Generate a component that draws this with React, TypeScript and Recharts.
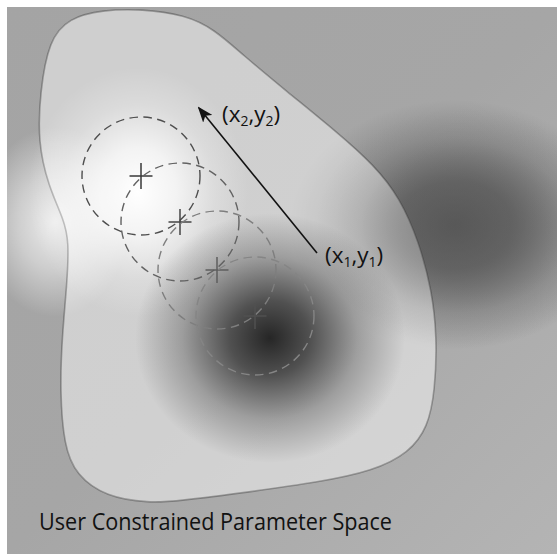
import React from "react";
import { ComposedChart, XAxis, YAxis, Scatter, ReferenceArea } from "recharts";

const W = 557;
const H = 554;

// outline of the constrained region, clockwise from the upper left
const outlineX = [40, 49, 69, 102, 142, 185, 214, 243, 285, 338, 374, 400, 419, 432, 437, 435, 428, 409, 373, 320, 249, 178, 149, 106, 76, 64, 60, 62, 67, 69, 64, 48, 38];
const outlineY = [92, 40, 18, 10, 9, 15, 29, 55, 90, 133, 165, 198, 242, 291, 337, 391, 427, 453, 471, 482, 492, 501, 503, 497, 475, 446, 391, 337, 284, 242, 220, 185, 142];

// soft light / dark spots of the underlying field
const spotX = [455, 55, 465, 138, 270];
const spotY = [225, 222, 228, 192, 338];
const spotRx = [165, 75, 150, 110, 135];
const spotRy = [125, 95, 120, 125, 125];
const spotFill = ["darkOuter", "lightOuter", "darkOver", "lightInner", "darkInner"];

// sampled positions of the search window
const stepX = [141, 180, 217, 255];
const stepY = [176, 222, 270, 316];
const stepR = 59;
const stepStroke = ["#4e4e4e", "#626262", "#7e7e7e", "#858585"];
const crossStroke = ["#383838", "#454545", "#5e5e5e", "#505050"];

// direction arrow from (x1,y1) to (x2,y2)
const arrowX = [317, 199];
const arrowY = [253, 108];

const labelX = [222, 325];
const labelY = [122, 263];
const labelSub = ["2", "1"];

const title = "User Constrained Parameter Space";

const outline = outlineX.map((x, i) => ({ x, y: outlineY[i] }));
const spots = spotX.map((x, i) => ({ x, y: spotY[i], rx: spotRx[i], ry: spotRy[i], fill: spotFill[i] }));
const steps = stepX.map((x, i) => ({ x, y: stepY[i], i }));
const arrow = arrowX.map((x, i) => ({ x, y: arrowY[i] }));
const labels = labelX.map((x, i) => ({ x, y: labelY[i], sub: labelSub[i] }));

const font = "'Open Sans', 'Noto Sans', sans-serif";

const Spot = (p: any) => (
  <ellipse cx={p.cx} cy={p.cy} rx={p.payload.rx} ry={p.payload.ry} fill={`url(#${p.payload.fill})`} />
);

const Step = (p: any) => {
  const i = p.payload.i;
  return (
    <g>
      <circle cx={p.cx} cy={p.cy} r={stepR} fill="none" stroke={stepStroke[i]} strokeWidth={1.4} strokeDasharray="8.5 5.5" />
      <line x1={p.cx - 11.5} x2={p.cx + 11.5} y1={p.cy} y2={p.cy} stroke={crossStroke[i]} strokeWidth={1.5} />
      <line x1={p.cx} x2={p.cx} y1={p.cy - 13} y2={p.cy + 13} stroke={crossStroke[i]} strokeWidth={1.5} />
    </g>
  );
};

const Coord = (p: any) => (
  <text x={p.cx} y={p.cy} fontFamily={font} fontSize={22.5} fill="#121212">
    (x<tspan fontSize={14} dy={4}>{p.payload.sub}</tspan>
    <tspan dy={-4}>,y</tspan>
    <tspan fontSize={14} dy={4}>{p.payload.sub}</tspan>
    <tspan dy={-4}>)</tspan>
  </text>
);

const Nothing = () => <g />;

export default function App() {
  return (
    <div style={{ position: "absolute", left: 0, top: 0, width: W, height: H, background: "#fff" }}>
      <ComposedChart width={W} height={H} margin={{ top: 0, right: 0, bottom: 0, left: 0 }}>
        <defs>
          <linearGradient id="bg" x1="0" y1="0" x2="1" y2="1">
            <stop offset="0" stopColor="#a4a4a4" />
            <stop offset="0.5" stopColor="#a6a6a6" />
            <stop offset="1" stopColor="#b4b4b4" />
          </linearGradient>
          <radialGradient id="darkOuter">
            <stop offset="0" stopColor="#585858" stopOpacity={1} />
            <stop offset="0.35" stopColor="#585858" stopOpacity={0.8} />
            <stop offset="0.7" stopColor="#585858" stopOpacity={0.3} />
            <stop offset="1" stopColor="#585858" stopOpacity={0} />
          </radialGradient>
          <radialGradient id="darkOver">
            <stop offset="0" stopColor="#585858" stopOpacity={0.45} />
            <stop offset="0.35" stopColor="#585858" stopOpacity={0.35} />
            <stop offset="0.7" stopColor="#585858" stopOpacity={0.1} />
            <stop offset="1" stopColor="#585858" stopOpacity={0} />
          </radialGradient>
          <radialGradient id="lightOuter">
            <stop offset="0" stopColor="#ffffff" stopOpacity={0.8} />
            <stop offset="0.5" stopColor="#ffffff" stopOpacity={0.45} />
            <stop offset="1" stopColor="#ffffff" stopOpacity={0} />
          </radialGradient>
          <radialGradient id="lightInner">
            <stop offset="0" stopColor="#ffffff" stopOpacity={1} />
            <stop offset="0.35" stopColor="#ffffff" stopOpacity={0.75} />
            <stop offset="0.7" stopColor="#ffffff" stopOpacity={0.25} />
            <stop offset="1" stopColor="#ffffff" stopOpacity={0} />
          </radialGradient>
          <radialGradient id="darkInner">
            <stop offset="0" stopColor="#262626" stopOpacity={1} />
            <stop offset="0.3" stopColor="#262626" stopOpacity={0.75} />
            <stop offset="0.65" stopColor="#262626" stopOpacity={0.3} />
            <stop offset="1" stopColor="#262626" stopOpacity={0} />
          </radialGradient>
          <marker id="head" viewBox="0 0 16 12" refX="14" refY="6" markerWidth="16" markerHeight="12" markerUnits="userSpaceOnUse" orient="auto">
            <path d="M0,0 L16,6 L0,12 L4,6 Z" fill="#121212" />
          </marker>
        </defs>
        <XAxis type="number" dataKey="x" domain={[0, W]} hide />
        <YAxis type="number" dataKey="y" domain={[0, H]} reversed hide />
        <ReferenceArea x1={7} x2={W} y1={7} y2={H} fill="url(#bg)" fillOpacity={1} stroke="none" />
        <Scatter data={spots.slice(0, 2)} shape={Spot} isAnimationActive={false} />
        <Scatter
          data={outline}
          shape={Nothing}
          line={{ fill: "#ffffff", fillOpacity: 0.47, stroke: "#000000", strokeOpacity: 0.28, strokeWidth: 1.6 }}
          lineJointType="basisClosed"
          isAnimationActive={false}
        />
        <Scatter data={spots.slice(2)} shape={Spot} isAnimationActive={false} />
        <Scatter data={steps} shape={Step} isAnimationActive={false} />
        <Scatter
          data={arrow}
          shape={Nothing}
          line={{ stroke: "#121212", strokeWidth: 1.6, markerEnd: "url(#head)" }}
          isAnimationActive={false}
        />
        <Scatter data={labels} shape={Coord} isAnimationActive={false} />
        <Scatter
          data={[{ x: 39, y: 530 }]}
          shape={(p: any) => (
            <text x={p.cx} y={p.cy} fontFamily={font} fontSize={23} fill="#121212" textLength={353} lengthAdjust="spacingAndGlyphs">
              {title}
            </text>
          )}
          isAnimationActive={false}
        />
      </ComposedChart>
    </div>
  );
}
